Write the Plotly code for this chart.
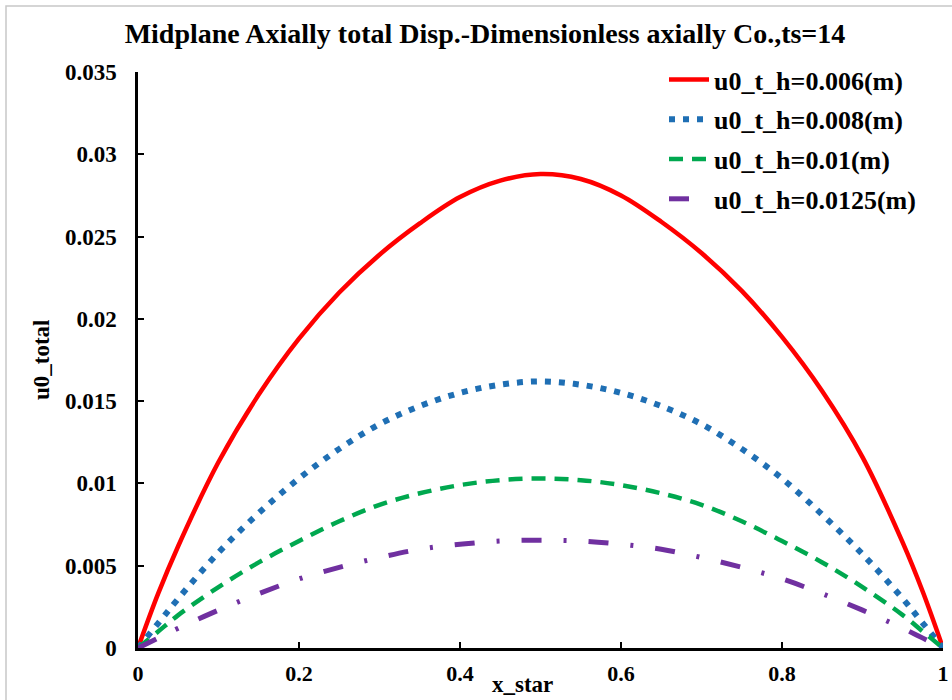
import plotly.graph_objects as go

# ---- data ----
x_star = [0, 0.025, 0.05, 0.1, 0.15, 0.2, 0.25, 0.3, 0.35, 0.4, 0.45, 0.5,
          0.55, 0.6, 0.65, 0.7, 0.75, 0.8, 0.85, 0.9, 0.95, 0.975, 1.0]

u_h0006 = [0, 0.0033, 0.0062, 0.0113, 0.0154, 0.0188, 0.0216, 0.0239, 0.0258, 0.0274, 0.0284, 0.0288,
           0.0285, 0.0275, 0.0259, 0.0240, 0.0217, 0.0189, 0.0156, 0.0116, 0.0064, 0.0034, 0]
u_h0008 = [0, 0.0015, 0.0030, 0.0058, 0.0082, 0.0103, 0.0121, 0.0136, 0.0147, 0.0155, 0.0160, 0.0162,
           0.0160, 0.0155, 0.0147, 0.0136, 0.0121, 0.0103, 0.0081, 0.0057, 0.0030, 0.0015, 0]
u_h0010 = [0, 0.0010, 0.0020, 0.0037, 0.0052, 0.0065, 0.0077, 0.0087, 0.0094, 0.0099, 0.0102, 0.0103,
           0.0102, 0.0099, 0.0094, 0.0087, 0.0077, 0.0065, 0.0052, 0.0037, 0.0020, 0.0010, 0]
u_h00125 = [0, 0.0006, 0.0012, 0.0023, 0.0033, 0.0042, 0.0049, 0.0055, 0.0060, 0.0063, 0.0065, 0.00655,
            0.0065, 0.0063, 0.0060, 0.0055, 0.0049, 0.0042, 0.0033, 0.0023, 0.0012, 0.0006, 0]

series_names = ["u0_t_h=0.006(m)", "u0_t_h=0.008(m)", "u0_t_h=0.01(m)", "u0_t_h=0.0125(m)"]
series_vals = [u_h0006, u_h0008, u_h0010, u_h00125]

x_ticks = [0, 0.2, 0.4, 0.6, 0.8, 1]
x_ticklabels = ["0", "0.2", "0.4", "0.6", "0.8", "1"]
y_ticks = [0, 0.005, 0.01, 0.015, 0.02, 0.025, 0.03, 0.035]
y_ticklabels = ["0", "0.005", "0.01", "0.015", "0.02", "0.025", "0.03", "0.035"]

title_text = "Midplane Axially total Disp.-Dimensionless axially Co.,ts=14"

# ---- styles ----
colors = ["#FF0000", "#1F6FB4", "#00A84F", "#7030A0"]
widths = [4.5, 6, 4.5, 5]
dashes = ["solid", "6px,8px", "14px,9px", "20px,22px,3px,22px"]

FONT = "Liberation Serif, Times New Roman, serif"

fig = go.Figure()
for name, vals, c, w, d in zip(series_names, series_vals, colors, widths, dashes):
    fig.add_trace(go.Scatter(
        x=x_star, y=vals, mode="lines", name=name, legendgroup=name,
        line=dict(color=c, width=w, dash=d, shape="spline", smoothing=1.0),
    ))

W, H = 952, 700
ML, MR, MT, MB = 138, 9, 72, 52
pw = W - ML - MR
ph = H - MT - MB

def px_to_paper_x(px):
    return (px - ML) / pw

def px_to_paper_y(py):
    return (H - MB - py) / ph

fig.update_layout(
    width=W, height=H,
    margin=dict(l=ML, r=MR, t=MT, b=MB, autoexpand=False),
    paper_bgcolor="white", plot_bgcolor="white",
    font=dict(family=FONT, size=22, color="black", weight="bold"),
    title=dict(text=title_text, x=(485) / W, xanchor="center",
               y=1 - 33 / H, yanchor="middle",
               font=dict(family=FONT, size=28, color="black", weight="bold")),
    showlegend=True,
    legend=dict(x=px_to_paper_x(664), y=px_to_paper_y(56), xanchor="left", yanchor="top",
                bgcolor="rgba(0,0,0,0)", borderwidth=0, tracegroupgap=3,
                font=dict(family=FONT, size=26, color="black", weight="bold"),
                itemwidth=40),
    xaxis=dict(range=[0, 1], tickvals=x_ticks, ticktext=x_ticklabels,
               showline=True, linecolor="black", linewidth=2.5,
               ticks="inside", ticklen=6, tickwidth=2, tickcolor="black",
               showgrid=False, zeroline=False, ticklabelstandoff=4,
               tickfont=dict(family=FONT, size=22, color="black", weight="bold")),
    yaxis=dict(range=[0, 0.035], tickvals=y_ticks, ticktext=y_ticklabels,
               showline=True, linecolor="black", linewidth=2.5,
               ticks="inside", ticklen=6, tickwidth=2, tickcolor="black",
               showgrid=False, zeroline=False, ticklabelstandoff=14,
               tickfont=dict(family=FONT, size=23, color="black", weight="bold")),
    annotations=[
        dict(text="u0_total", textangle=-90, xref="paper", yref="paper",
             x=px_to_paper_x(41), y=px_to_paper_y(360), xanchor="center", yanchor="middle",
             showarrow=False, font=dict(family=FONT, size=23, color="black", weight="bold")),
        dict(text="x_star", xref="paper", yref="paper",
             x=px_to_paper_x(522), y=px_to_paper_y(684), xanchor="center", yanchor="middle",
             showarrow=False, font=dict(family=FONT, size=23, color="black", weight="bold")),
    ],
    shapes=[
        dict(type="rect", xref="paper", yref="paper", layer="below",
             x0=px_to_paper_x(6), y0=px_to_paper_y(720),
             x1=px_to_paper_x(980), y1=px_to_paper_y(6),
             line=dict(color="#C8C8C8", width=1.5), fillcolor="rgba(0,0,0,0)"),
    ],
)

fig.write_html("out.html")
